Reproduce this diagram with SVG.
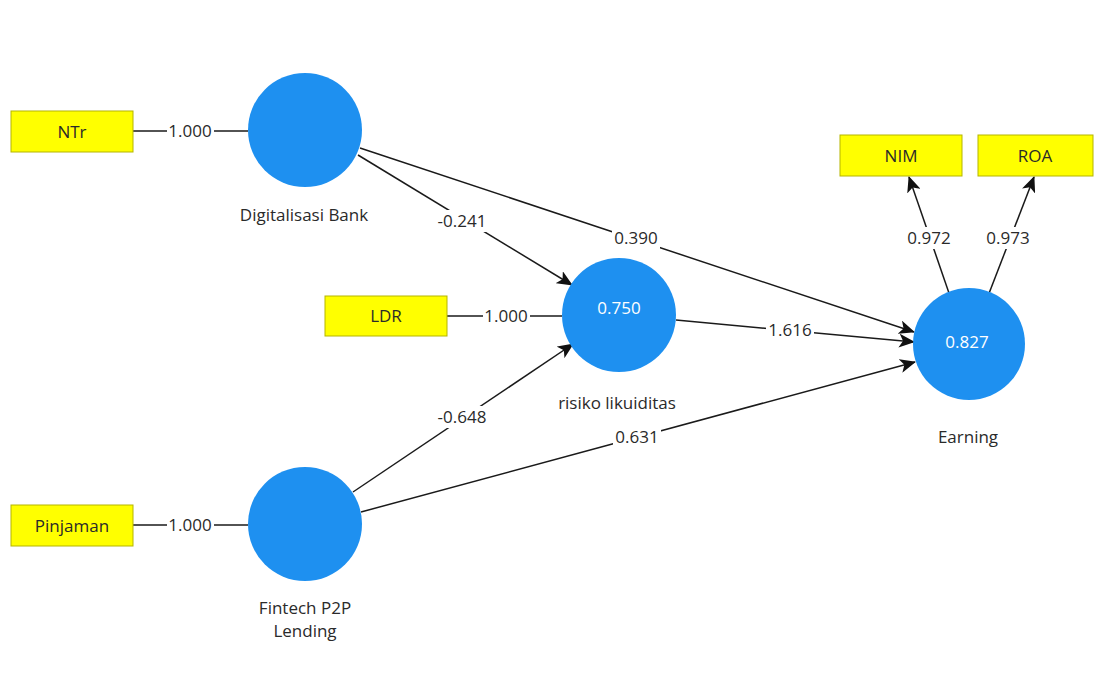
<svg xmlns="http://www.w3.org/2000/svg" width="1095" height="680" viewBox="0 0 1095 680">
<style>
.bg{fill:#ffffff}
.lv{fill:#1e90f0}
.ind{fill:#ffff00;stroke:#b5b500;stroke-width:1}
.t{font-family:"Open Sans","Noto Sans","Liberation Sans",sans-serif;font-size:17px;fill:#2a2a2a;text-anchor:middle}
.w{fill:#ffffff}
.lb{fill:#ffffff}
.c{stroke:#1a1a1a;stroke-width:1.5;fill:none}
.a{marker-end:url(#arr)}
</style>
<defs>
<marker id="arr" viewBox="0 0 16 14" refX="15" refY="7" markerWidth="16" markerHeight="14" markerUnits="userSpaceOnUse" orient="auto">
<path d="M0,0 L16,7 L0,14 L4,7 Z" fill="#111"/>
</marker>
</defs>
<rect class="bg" x="0" y="0" width="1095" height="680"/>
<g id="connectors">
<line class="c" x1="133" y1="131" x2="248" y2="131"/>
<line class="c" x1="133" y1="525" x2="248" y2="525"/>
<line class="c" x1="447" y1="316" x2="562" y2="316"/>
<line class="c a" x1="358" y1="155" x2="572" y2="285"/>
<line class="c a" x1="360" y1="148" x2="914" y2="332"/>
<line class="c a" x1="676" y1="320" x2="914" y2="342"/>
<line class="c a" x1="353" y1="492" x2="573" y2="344"/>
<line class="c a" x1="361" y1="512" x2="915" y2="362"/>
<line class="c a" x1="950" y1="296" x2="909" y2="177"/>
<line class="c a" x1="988" y1="296" x2="1034" y2="177"/>
<rect class="lb" x="167" y="120" width="47" height="22"/>
<rect class="lb" x="167" y="514" width="47" height="22"/>
<rect class="lb" x="483" y="305" width="47" height="22"/>
<rect class="lb" x="434" y="210" width="56" height="22"/>
<rect class="lb" x="612" y="227" width="48" height="22"/>
<rect class="lb" x="766" y="319" width="48" height="22"/>
<rect class="lb" x="434" y="406" width="56" height="22"/>
<rect class="lb" x="613" y="426" width="48" height="22"/>
<rect class="lb" x="905" y="227" width="48" height="22"/>
<rect class="lb" x="984" y="227" width="48" height="22"/>
<text class="t" x="190" y="137">1.000</text>
<text class="t" x="190" y="531">1.000</text>
<text class="t" x="506" y="322">1.000</text>
<text class="t" x="462" y="227">-0.241</text>
<text class="t" x="636" y="244">0.390</text>
<text class="t" x="790" y="336">1.616</text>
<text class="t" x="462" y="423">-0.648</text>
<text class="t" x="637" y="443">0.631</text>
<text class="t" x="929" y="244">0.972</text>
<text class="t" x="1008" y="244">0.973</text>
</g>
<g id="NTr"><rect class="ind" x="11" y="111" width="122" height="41"/><text class="t" x="72" y="138">NTr</text></g>
<g id="Pinjaman"><rect class="ind" x="11" y="505" width="122" height="41"/><text class="t" x="72" y="532">Pinjaman</text></g>
<g id="LDR"><rect class="ind" x="325" y="296" width="122" height="40"/><text class="t" x="386" y="322">LDR</text></g>
<g id="NIM"><rect class="ind" x="840" y="135" width="122" height="41"/><text class="t" x="901" y="162">NIM</text></g>
<g id="ROA"><rect class="ind" x="978" y="135" width="115" height="41"/><text class="t" x="1035" y="162">ROA</text></g>
<g id="DigitalisasiBank"><circle class="lv" cx="305" cy="130" r="57"/><text class="t" x="304" y="221">Digitalisasi Bank</text></g>
<g id="FintechP2PLending"><circle class="lv" cx="305" cy="524" r="57"/><text class="t" x="305" y="614">Fintech P2P</text><text class="t" x="305" y="637">Lending</text></g>
<g id="RisikoLikuiditas"><circle class="lv" cx="619" cy="315" r="57"/><text class="t w" x="619" y="314">0.750</text><text class="t" x="617" y="409">risiko likuiditas</text></g>
<g id="Earning"><circle class="lv" cx="969" cy="344" r="56"/><text class="t w" x="967" y="348">0.827</text><text class="t" x="968" y="443">Earning</text></g>
</svg>
